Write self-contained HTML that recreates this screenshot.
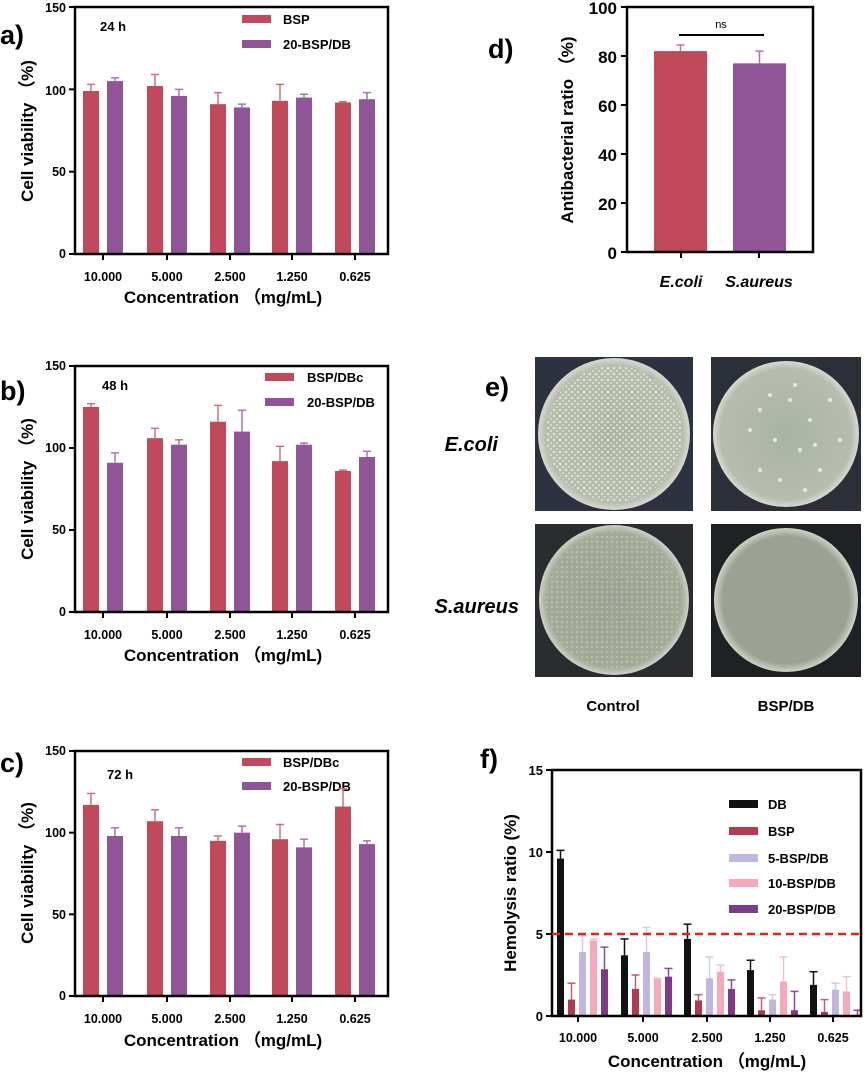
<!DOCTYPE html>
<html><head><meta charset="utf-8"><style>
html,body{margin:0;padding:0;background:#fff}
svg{display:block;font-family:"Liberation Sans",Arial,sans-serif;font-weight:bold}
</style></head><body>
<svg id="s" width="865" height="1073" viewBox="0 0 865 1073" xmlns="http://www.w3.org/2000/svg">
<defs>
<radialGradient id="pl1" cx="50%" cy="50%" r="50%"><stop offset="0" stop-color="#a9b3a4"/><stop offset="0.9" stop-color="#b7bdae"/><stop offset="1" stop-color="#d8dad2"/></radialGradient>
<radialGradient id="pl2" cx="50%" cy="50%" r="50%"><stop offset="0" stop-color="#9aa395"/><stop offset="0.9" stop-color="#a4aa98"/><stop offset="1" stop-color="#d0d2c8"/></radialGradient>
<pattern id="col" width="6" height="6" patternUnits="userSpaceOnUse"><circle cx="2" cy="2" r="1.3" fill="#e8ead8"/><circle cx="5" cy="5" r="1.1" fill="#dfe2cc"/></pattern>
<pattern id="col2" width="5" height="5" patternUnits="userSpaceOnUse"><circle cx="2" cy="2" r="0.8" fill="#d9d6b8"/></pattern>
</defs>

<g font-size="27" font-weight="bold">
<text x="0" y="44">a)</text>
<text x="0" y="400">b)</text>
<text x="0" y="772">c)</text>
<text x="488" y="58">d)</text>
<text x="485" y="396">e)</text>
<text x="480" y="768">f)</text>
</g>

<g font-size="12.5" text-anchor="end">
<text x="66" y="12">150</text><text x="66" y="95">100</text><text x="66" y="176">50</text><text x="66" y="258">0</text>
<text x="66" y="370">150</text><text x="66" y="452">100</text><text x="66" y="534">50</text><text x="66" y="616">0</text>
<text x="66" y="755">150</text><text x="66" y="837">100</text><text x="66" y="919">50</text><text x="66" y="1000">0</text>
</g>
<g font-size="12.5" text-anchor="middle">
<text x="103" y="281">10.000</text><text x="167" y="281">5.000</text><text x="230" y="281">2.500</text><text x="292" y="281">1.250</text><text x="355" y="281">0.625</text>
<text x="103" y="639">10.000</text><text x="167" y="639">5.000</text><text x="230" y="639">2.500</text><text x="292" y="639">1.250</text><text x="355" y="639">0.625</text>
<text x="103" y="1023">10.000</text><text x="167" y="1023">5.000</text><text x="230" y="1023">2.500</text><text x="292" y="1023">1.250</text><text x="355" y="1023">0.625</text>
</g>
<g font-size="17" text-anchor="middle">
<text x="223" y="303">Concentration （mg/mL)</text>
<text x="223" y="661">Concentration （mg/mL)</text>
<text x="223" y="1046">Concentration （mg/mL)</text>
<text transform="translate(33,131) rotate(-90)">Cell viability  （%)</text>
<text transform="translate(33,489) rotate(-90)">Cell viability  （%)</text>
<text transform="translate(33,873) rotate(-90)">Cell viability  （%)</text>
</g>
<g font-size="13">
<text x="100" y="31">24 h</text><text x="102" y="390">48 h</text><text x="107" y="779">72 h</text>
<text x="283" y="24">BSP</text><text x="283" y="49">20-BSP/DB</text>
<text x="307" y="382">BSP/DBc</text><text x="307" y="407">20-BSP/DB</text>
<text x="283" y="767">BSP/DBc</text><text x="283" y="791">20-BSP/DB</text>
</g>
<rect x="242" y="15" width="29" height="8" fill="#c04a5a"/><rect x="242" y="40" width="29" height="8" fill="#8f5597"/>
<rect x="265" y="373" width="29" height="8" fill="#c04a5a"/><rect x="265" y="398" width="29" height="8" fill="#8f5597"/>
<rect x="242" y="758" width="29" height="8" fill="#c04a5a"/><rect x="242" y="782" width="29" height="8" fill="#8f5597"/>

<g font-size="17" text-anchor="end">
<text x="617" y="14">100</text><text x="617" y="63">80</text><text x="617" y="112">60</text><text x="617" y="161">40</text><text x="617" y="210">20</text><text x="617" y="259">0</text>
</g>
<text transform="translate(573,130) rotate(-90)" font-size="17" text-anchor="middle">Antibacterial ratio   （%)</text>
<g font-size="16" font-style="italic" text-anchor="middle"><text x="681" y="287">E.coli</text><text x="759" y="287">S.aureus</text></g>
<text x="721" y="28" font-size="11" font-weight="normal" text-anchor="middle">ns</text>
<line x1="679" y1="35" x2="764" y2="35" stroke="#000" stroke-width="2"/>

<rect x="535" y="357" width="158" height="154" fill="#2d3240"/>
<rect x="711" y="357" width="150" height="154" fill="#2b3038"/>
<rect x="535" y="524" width="158" height="153" fill="#2a2d30"/>
<rect x="711" y="524" width="150" height="153" fill="#1e2224"/>
<circle cx="614" cy="434" r="76" fill="url(#pl1)"/><circle cx="614" cy="434" r="68" fill="url(#col)" opacity="0.85"/>
<circle cx="786" cy="434" r="73" fill="url(#pl1)"/>
<g fill="#e6e9d2"><circle cx="760" cy="410" r="2"/><circle cx="790" cy="400" r="2"/><circle cx="810" cy="420" r="2"/><circle cx="775" cy="440" r="2"/><circle cx="800" cy="450" r="2"/><circle cx="820" cy="470" r="2"/><circle cx="760" cy="470" r="2"/><circle cx="780" cy="480" r="2"/><circle cx="830" cy="400" r="2"/><circle cx="750" cy="430" r="2"/><circle cx="795" cy="385" r="2"/><circle cx="815" cy="445" r="2"/><circle cx="770" cy="395" r="2"/><circle cx="840" cy="440" r="2"/><circle cx="805" cy="490" r="2"/></g>
<circle cx="614" cy="600" r="75" fill="url(#pl2)"/><circle cx="614" cy="600" r="68" fill="url(#col2)"/>
<circle cx="786" cy="600" r="72" fill="url(#pl2)"/><circle cx="786" cy="600" r="64" fill="#9ca194"/>
<g font-size="20" font-style="italic" text-anchor="end"><text x="498" y="451">E.coli</text><text x="519" y="613">S.aureus</text></g>
<g font-size="15" text-anchor="middle"><text x="613" y="711">Control</text><text x="786" y="711">BSP/DB</text></g>

<g font-size="13" text-anchor="end">
<text x="543" y="775">15</text><text x="543" y="857">10</text><text x="543" y="939">5</text><text x="543" y="1021">0</text>
</g>
<g font-size="12.5" text-anchor="middle">
<text x="578" y="1042">10.000</text><text x="643" y="1042">5.000</text><text x="707" y="1042">2.500</text><text x="770" y="1042">1.250</text><text x="833" y="1042">0.625</text>
</g>
<text x="707" y="1067" font-size="17" text-anchor="middle">Concentration （mg/mL)</text>
<text transform="translate(516,893) rotate(-90)" font-size="17" text-anchor="middle">Hemolysis ratio (%)</text>
<g font-size="13">
<text x="768" y="809">DB</text><text x="768" y="836">BSP</text><text x="768" y="863">5-BSP/DB</text><text x="768" y="888">10-BSP/DB</text><text x="768" y="914">20-BSP/DB</text>
</g>
<rect x="729" y="800" width="29" height="8" fill="#111"/>
<rect x="729" y="827" width="29" height="8" fill="#b03a4f"/>
<rect x="729" y="854" width="29" height="8" fill="#c3b6de"/>
<rect x="729" y="879" width="29" height="8" fill="#f5a9ba"/>
<rect x="729" y="905" width="29" height="8" fill="#7c3a88"/>
<g id="dyn"></g>
</svg>
<script>
var g=document.getElementById('dyn'),NS='http://www.w3.org/2000/svg';
function el(t,a){var e=document.createElementNS(NS,t);for(var k in a)e.setAttribute(k,a[k]);g.appendChild(e);return e;}
function bar(x,w,y0,yv,ye,c,ec){el('rect',{x:x,y:yv,width:w,height:y0-yv,fill:c});
 var cx=x+w/2;el('line',{x1:cx,y1:yv,x2:cx,y2:ye,stroke:ec||c,'stroke-width':1.5});
 el('line',{x1:cx-4,y1:ye,x2:cx+4,y2:ye,stroke:ec||c,'stroke-width':1.5});}
function axes(l,t,r,b,ticksY,ticksX){
 el('rect',{x:l,y:t,width:r-l,height:b-t,fill:'none',stroke:'#000','stroke-width':2.5});
 ticksY.forEach(function(y){el('line',{x1:l-6,y1:y,x2:l,y2:y,stroke:'#000','stroke-width':2});});
 ticksX.forEach(function(x){el('line',{x1:x,y1:b,x2:x,y2:b+6,stroke:'#000','stroke-width':2});});}
var R='#c04a5a',P='#8f5597',X=[103,167,230,292,355];
function cell(top,bot,red,redE,pur,purE){
 var s=(bot-top)/150;function y(v){return bot-v*s;}
 X.forEach(function(x,i){bar(x-20,16,bot,y(red[i]),y(redE[i]),R,'#d0707c');bar(x+4,16,bot,y(pur[i]),y(purE[i]),P,'#a776b0');});
 axes(75,top,388,bot,[top,y(100),y(50),bot],X);}
cell(7,254,[99,102,91,93,92],[103,109,98,103,92.5],[105,96,89,95,94],[107,100,91,97,98]);
cell(366,612,[125,106,116,92,86],[127,112,126,101,86.5],[91,102,110,102,94.5],[97,105,123,103,98]);
cell(751,996,[117,107,95,96,116],[124,114,98,105,127],[98,98,100,91,93],[103,103,104,96,95]);
(function(){var b=252,s=2.45;function y(v){return b-v*s;}
 bar(654,53,b,y(82),y(84.5),R,'#d0707c');bar(733,53,b,y(77),y(82),P,'#a776b0');
 axes(627,7,813,b,[0,20,40,60,80,100].map(y),[681,759]);})();
(function(){var b=1016,s=16.4;function y(v){return b-v*s;}
 var st=[557,621,684,747,810],cols=['#111','#b03a4f','#c3b6de','#f5a9ba','#7c3a88'],ec=['#111','#c0606f','#d4cae8','#f7bfcc','#8c4a98'];
 var v=[[9.6,3.7,4.7,2.8,1.9],[1.0,1.65,0.95,0.35,0.25],[3.9,3.9,2.3,1.0,1.6],[4.6,2.3,2.7,2.1,1.5],[2.85,2.4,1.65,0.35,0.05]];
 var e=[[10.1,4.7,5.6,3.4,2.7],[2.0,2.5,1.3,1.1,1.0],[4.9,5.4,3.6,1.3,2.0],[4.7,2.3,3.1,3.6,2.4],[4.2,2.9,2.2,1.5,0.35]];
 for(var k=0;k<5;k++)for(var i=0;i<5;i++)bar(st[i]+k*11,7,b,y(v[k][i]),y(e[k][i]),cols[k],ec[k]);
 axes(552,770,861,b,[0,5,10,15].map(y),[578,643,707,770,833]);
 el('line',{x1:552,y1:y(5),x2:861,y2:y(5),stroke:'#e8201a','stroke-width':2.5,'stroke-dasharray':'8,5'});})();
</script>
</body></html>
